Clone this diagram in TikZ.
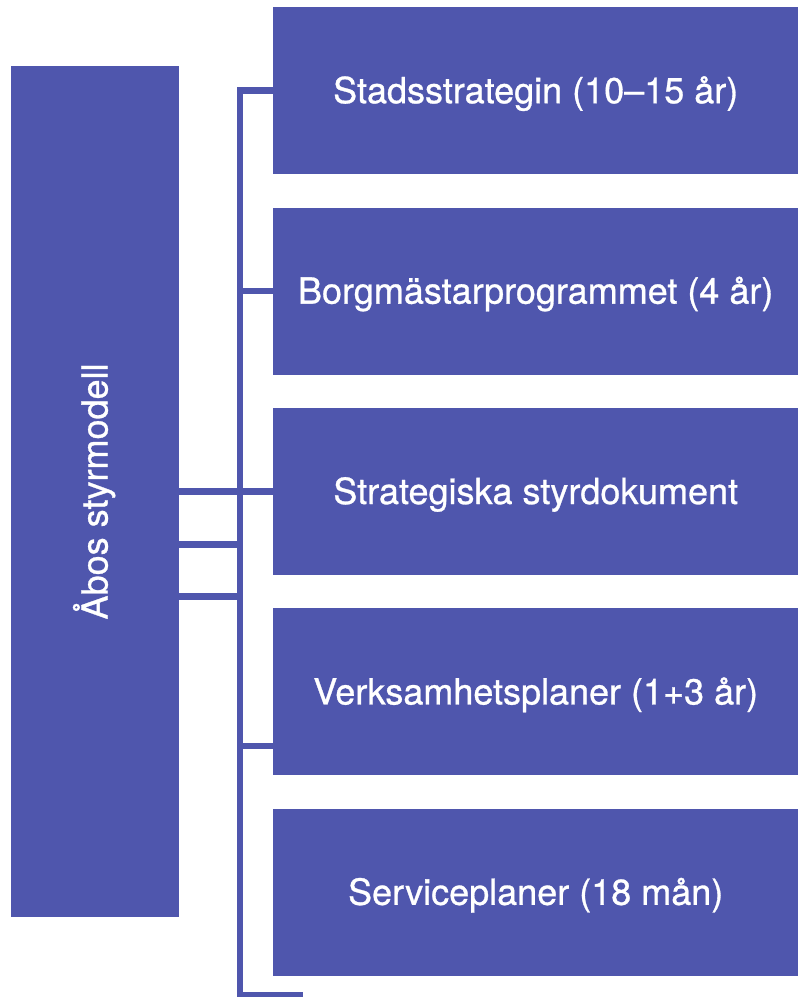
\documentclass[tikz,border=0pt]{standalone}
\usepackage{fontspec}
\setmainfont{TeX Gyre Heros}[FakeBold=0.8]
\usetikzlibrary{positioning}
\definecolor{turku}{RGB}{79,86,173}
\tikzstyle{box} = [rectangle,
                   fill=turku,
                   text=white,
                   inner sep=0pt,
                   text height=26pt,
                   text depth=1pt,
                   minimum width=525pt,
                   minimum height=167pt,
                   font=\fontsize{36}{40}\selectfont]
\tikzstyle{conn} = [draw=turku,
                    line width=6.5pt,
                    line join=miter]

\begin{document}
\begin{tikzpicture}[x=1pt,y=-1pt,node distance=33pt]

  \useasboundingbox (0,0) rectangle (798,997);

  % Nodes
  \node[box, anchor=north west] (strat) at (273,7) {Stadsstrategin (10--15 år)};
  \node[box, below=of strat] (borg) {Borgmästarprogrammet (4 år)};
  \node[box, below=of borg] (dok) {Strategiska styrdokument};
  \node[box, below=of dok] (verk) {Verksamhetsplaner (1+3 år)};
  \node[box, below=of verk] (serv) {Serviceplaner (18 mån)};

  \node[box, rotate=90, minimum width=851pt, minimum height=168pt] (model)
    at (95,491.5) {Åbos styrmodell};

  \coordinate (end) at (303,995.5);

  % Edges
  \draw[conn] (strat.west) -- ++(-33,0) |- (end);
  \draw[conn] (borg.west) -- ++(-33,0);
  \draw[conn] (dok.west) -- ++(-33,0);
  \draw[conn] ([yshift=29.5pt]verk.south west) -- ++(-33,0);
  \draw[conn] (model.south |- dok.west) -- ++(60,0);
  \draw[conn] ([yshift=-53pt]model.south |- dok.west) -- ++(60,0);
  \draw[conn] ([yshift=-105pt]model.south |- dok.west) -- ++(60,0);

\end{tikzpicture}
\end{document}
